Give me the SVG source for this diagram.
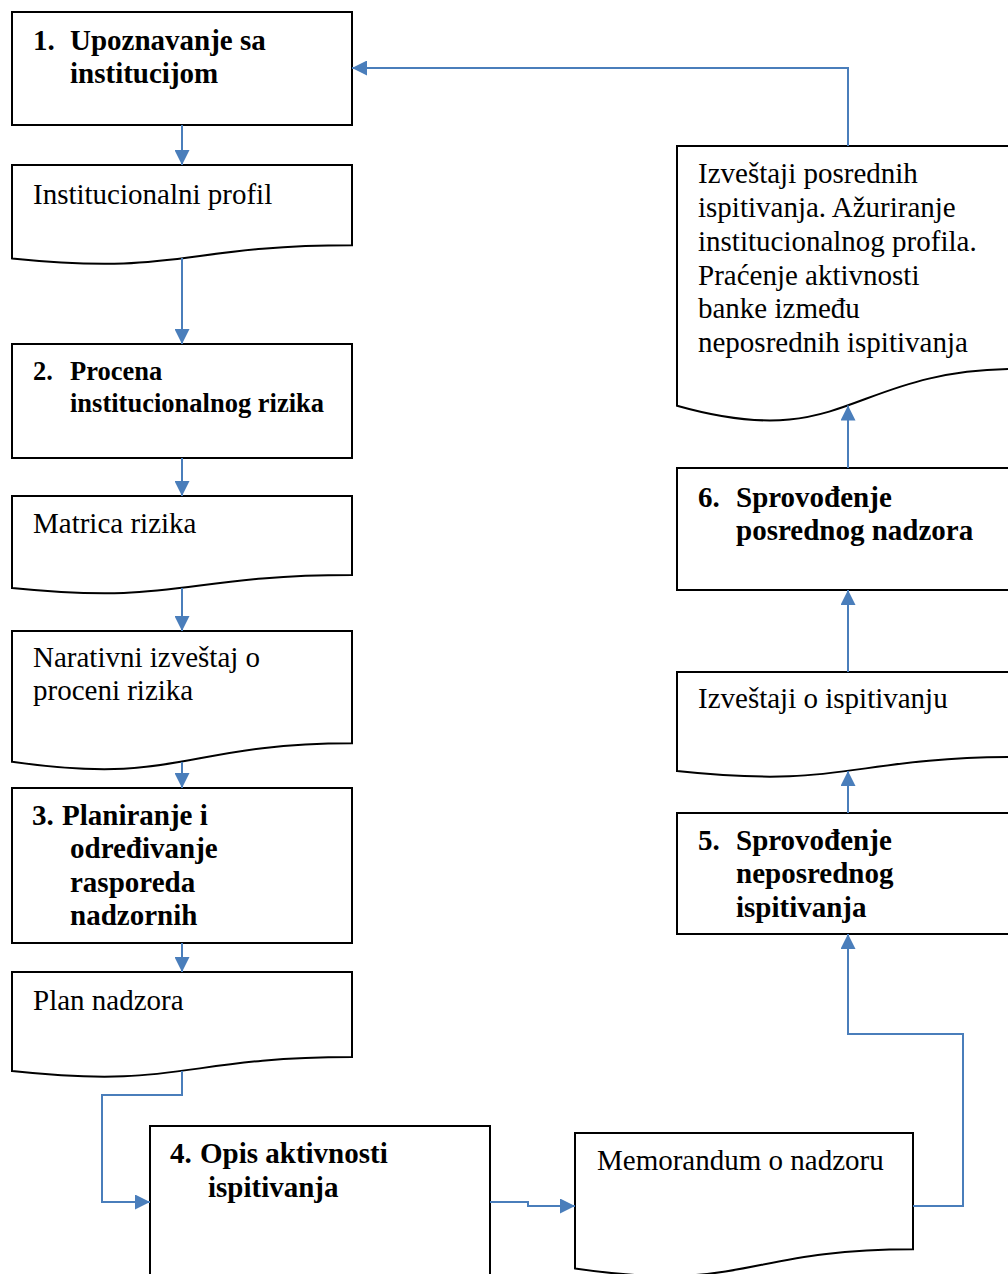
<svg xmlns="http://www.w3.org/2000/svg" width="1008" height="1274" viewBox="0 0 1008 1274">
<style>
.box{fill:#fff;stroke:#000;stroke-width:2}
.t{font-family:"Liberation Serif","Times New Roman",serif;font-size:29px;fill:#000}
.b{font-weight:bold}
.c{fill:none;stroke:#4a7ebb;stroke-width:2;marker-end:url(#ah)}
</style>
<defs>
<marker id="ah" viewBox="0 0 10 10" refX="10" refY="5" markerUnits="userSpaceOnUse" markerWidth="15" markerHeight="15" orient="auto">
<path d="M0,0 L10,5 L0,10 z" fill="#4a7ebb"/>
</marker>
</defs>
<rect width="1008" height="1274" fill="#fff"/>

<g id="n1">
<rect class="box" x="12" y="12" width="340" height="113"/>
<text class="t b" x="33" y="50">1.</text>
<text class="t b" x="70" y="50">Upoznavanje sa</text>
<text class="t b" x="70" y="83">institucijom</text>
</g>

<g id="d1">
<path class="box" d="M12,165 H352 V245.2 C182,245.2 182,275.8 12,258.4 Z"/>
<text class="t" x="33" y="204">Institucionalni profil</text>
</g>

<g id="n2">
<rect class="box" x="12" y="344" width="340" height="114"/>
<text class="t b" x="33" y="380" style="font-size:26.5px">2.</text>
<text class="t b" x="70" y="380" style="font-size:26.5px">Procena</text>
<text class="t b" x="70" y="412" style="font-size:26.5px">institucionalnog rizika</text>
</g>

<g id="d2">
<path class="box" d="M12,496 H352 V575 C182,575 182,605.1 12,588 Z"/>
<text class="t" x="33" y="533">Matrica rizika</text>
</g>

<g id="d3">
<path class="box" d="M12,631 H352 V743.3 C182,743.3 182,786 12,761.8 Z"/>
<text class="t" x="33" y="667">Narativni izveštaj o</text>
<text class="t" x="33" y="700">proceni rizika</text>
</g>

<g id="n3">
<rect class="box" x="12" y="788" width="340" height="155"/>
<text class="t b" x="32" y="825">3.</text>
<text class="t b" x="62" y="825">Planiranje i</text>
<text class="t b" x="70" y="858">određivanje</text>
<text class="t b" x="70" y="892">rasporeda</text>
<text class="t b" x="70" y="925">nadzornih</text>
</g>

<g id="d4">
<path class="box" d="M12,972 H352 V1057 C182,1057 182,1089.4 12,1071 Z"/>
<text class="t" x="33" y="1010">Plan nadzora</text>
</g>

<g id="n4">
<rect class="box" x="150" y="1126" width="340" height="170"/>
<text class="t b" x="170" y="1163">4.</text>
<text class="t b" x="200" y="1163">Opis aktivnosti</text>
<text class="t b" x="208" y="1197">ispitivanja</text>
</g>

<g id="d5">
<path class="box" d="M575,1133 H913 V1249.3 C744,1249.3 744,1293.6 575,1268.4 Z"/>
<text class="t" x="597" y="1170">Memorandum o nadzoru</text>
</g>

<g id="n5">
<rect class="box" x="677" y="813" width="342" height="121"/>
<text class="t b" x="698" y="850">5.</text>
<text class="t b" x="736" y="850">Sprovođenje</text>
<text class="t b" x="736" y="883">neposrednog</text>
<text class="t b" x="736" y="917">ispitivanja</text>
</g>

<g id="d6">
<path class="box" d="M677,672 H1019 V757 C848,757 848,789.4 677,771 Z"/>
<text class="t" x="698" y="708">Izveštaji o ispitivanju</text>
</g>

<g id="n6">
<rect class="box" x="677" y="468" width="342" height="122"/>
<text class="t b" x="698" y="507">6.</text>
<text class="t b" x="736" y="507">Sprovođenje</text>
<text class="t b" x="736" y="540">posrednog nadzora</text>
</g>

<g id="d7">
<path class="box" d="M677,146 H1019 V369 C848,369 848,453.9 677,405.7 Z"/>
<text class="t" x="698" y="183">Izveštaji posrednih</text>
<text class="t" x="698" y="217">ispitivanja. Ažuriranje</text>
<text class="t" x="698" y="251">institucionalnog profila.</text>
<text class="t" x="698" y="285">Praćenje aktivnosti</text>
<text class="t" x="698" y="318">banke između</text>
<text class="t" x="698" y="352">neposrednih ispitivanja</text>
</g>

<g id="connectors">
<path class="c" d="M182,125 V165"/>
<path class="c" d="M182,258 V344"/>
<path class="c" d="M182,458 V496"/>
<path class="c" d="M182,588 V631"/>
<path class="c" d="M182,762 V788"/>
<path class="c" d="M182,943 V972"/>
<path class="c" d="M182,1071 V1095 H102 V1202 H150"/>
<path class="c" d="M490,1202 H528 V1206 H575"/>
<path class="c" d="M913,1206 H963 V1034 H848 V934"/>
<path class="c" d="M848,813 V771"/>
<path class="c" d="M848,672 V590"/>
<path class="c" d="M848,468 V405.5"/>
<path class="c" d="M848,146 V68 H352"/>
</g>
</svg>
